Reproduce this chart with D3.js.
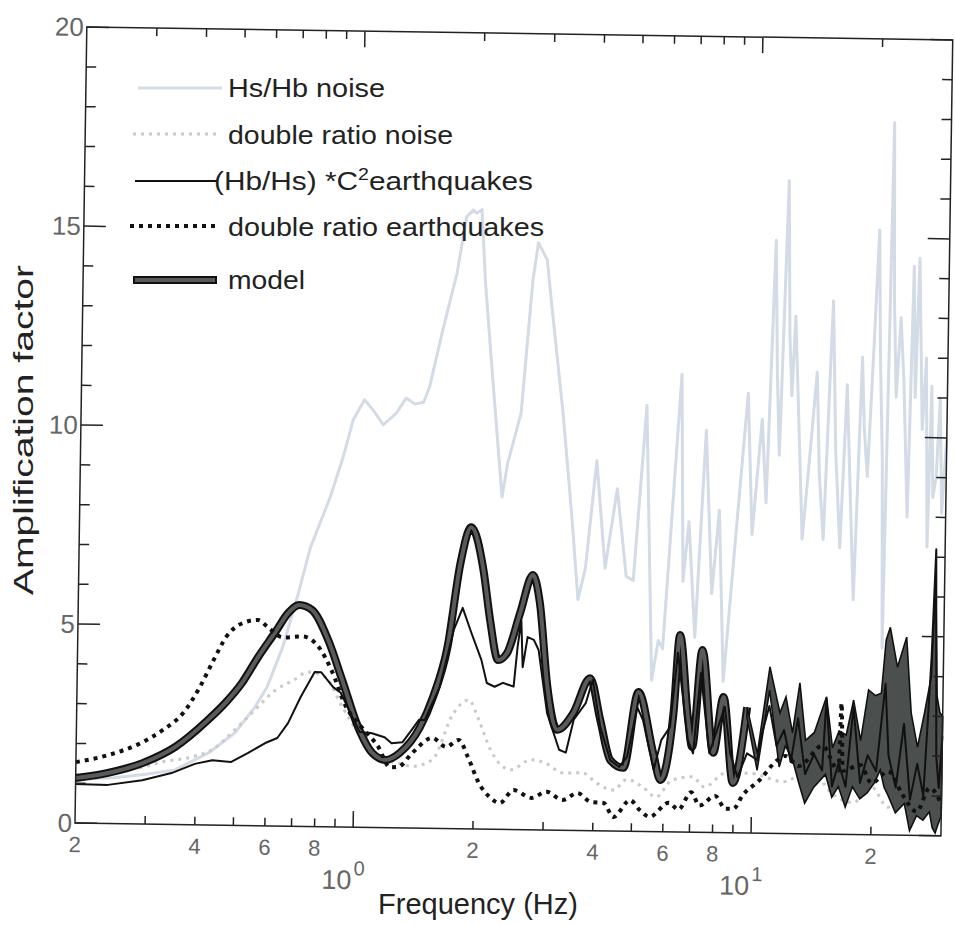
<!DOCTYPE html>
<html>
<head>
<meta charset="utf-8">
<script src="https://cdn.jsdelivr.net/npm/d3@7"></script>
<style>
  body { margin: 0; background: #fff; }
  text { font-family: "Liberation Sans", Arial, sans-serif; }
</style>
</head>
<body>
<svg id="chart" width="955" height="925"></svg>
<script>
// [frequency (Hz), amplification]

var hsHbNoise = [[0.2,1.1],[0.25,1.15],[0.3,1.25],[0.355,1.37],[0.43,1.81],[0.5,2.32],[0.56,2.97],[0.6,3.48],
  [0.655,4.49],[0.71,5.76],[0.762,7.0],[0.852,8.29],[0.915,9.3],[0.966,10.23],[1.03,10.74],[1.08,10.5],
  [1.15,10.12],[1.24,10.42],[1.31,10.8],[1.38,10.65],[1.45,10.7],[1.5,11.1],[1.61,12.52],[1.74,13.96],
  [1.83,15.37],[1.9,15.55],[1.94,15.47],[2.0,15.56],[2.05,13.8],[2.16,11.28],[2.3,8.35],[2.37,9.2],
  [2.55,10.46],[2.7,13.8],[2.78,14.75],[2.93,14.32],[3.0,13.4],[3.25,10.5],[3.45,7.9],[3.6,5.8],
  [3.75,6.6],[3.97,9.3],[4.2,6.6],[4.48,8.6],[4.75,6.4],[4.95,6.3],[5.28,10.7],[5.55,3.8],[5.75,4.8],
  [5.9,4.6],[6.45,11.5],[6.6,6.3],[6.8,7.8],[7.1,4.9],[7.46,10.1],[7.8,6.0],[8.1,8.1],[8.4,3.8],
  [8.9,7.3],[9.48,11.05],[9.8,7.5],[10.3,10.4],[10.6,8.3],[11.0,14.9],[11.2,11.5],[11.4,9.5],
  [11.8,16.4],[12.0,12.5],[12.2,11.0],[12.4,13.0],[12.6,11.4],[13.1,7.4],[13.6,9.5],[14.1,11.6],
  [14.4,9.0],[14.8,7.4],[15.1,10.5],[15.4,13.4],[15.8,9.6],[16.3,7.2],[16.8,11.3],[17.3,8.2],
  [17.7,5.9],[18.3,12.0],[18.6,10.2],[19.0,9.0],[19.5,12.0],[20.0,15.2],[20.3,12.0],[20.7,9.4],
  [21.0,4.7],[21.6,17.9],[21.9,13.5],[22.3,11.0],[22.8,13.0],[23.3,11.4],[24.0,8.0],[24.5,14.3],
  [24.9,11.0],[25.3,14.5],[26.0,10.2],[26.5,12.0],[27.0,7.25],[27.4,11.3],[27.8,8.5],[28.3,9.0],
  [28.8,11.0],[29.3,8.1],[30,10.0]];

var doubleRatioNoise = [[0.2,1.2],[0.25,1.3],[0.3,1.45],[0.33,1.57],[0.39,1.7],[0.447,1.94],[0.5,2.4],
  [0.56,2.9],[0.63,3.41],[0.7,3.67],[0.76,3.88],[0.84,3.76],[0.93,3.01],[1.05,2.2],[1.15,1.75],
  [1.3,1.62],[1.4,1.55],[1.57,1.72],[1.77,2.9],[1.93,3.24],[2.05,2.74],[2.2,1.99],[2.48,1.5],
  [2.78,1.76],[3.03,1.68],[3.35,1.44],[3.75,1.45],[4.07,1.2],[4.5,1.03],[4.85,1.3],[5.3,1.13],
  [5.75,0.87],[6.3,1.3],[7.1,1.39],[7.6,1.14],[8.6,1.5],[9.9,1.5],[12,1.3],[14,1.6],[16,1.0],
  [18,0.8],[20,1.2],[22,0.7],[25,1.0],[28,0.6],[30,1.0]];

var hbHsEarthquakes = [[0.2,0.98],[0.241,0.97],[0.294,1.1],[0.348,1.29],[0.398,1.53],[0.44,1.63],
  [0.49,1.59],[0.54,1.82],[0.597,2.08],[0.64,2.21],[0.68,2.59],[0.73,3.25],[0.79,3.88],[0.82,3.88],
  [0.88,3.51],[0.92,3.37],[1.03,2.39],[1.1,2.37],[1.19,2.27],[1.24,2.12],[1.32,2.15],[1.39,2.46],
  [1.45,2.72],[1.5,2.72],[1.63,3.55],[1.76,4.99],[1.85,5.55],[1.95,4.92],[2.07,4.25],[2.14,3.67],
  [2.24,3.58],[2.35,3.68],[2.5,3.59],[2.55,4.59],[2.6,5.26],[2.63,4.08],[2.7,4.84],[2.8,4.77],
  [2.88,4.52],[3.04,2.94],[3.27,2.02],[3.4,1.95],[3.55,2.78],[3.8,3.2],[3.95,3.79],[4.14,2.61],
  [4.4,1.78],[4.64,1.61],[4.85,1.87],[5.12,3.12],[5.3,2.8],[5.66,1.55],[5.9,2.3],[6.2,2.63],
  [6.45,4.5],[6.88,2.31],[7.1,1.98],[7.38,4.0],[7.8,1.99],[8.5,3.16],[8.8,2.0],[9.2,1.4],[9.7,2.0],
  [10.3,1.84],[10.5,2.4],[11,3.2],[11.5,2.2],[12,2.6],[12.5,1.8],[13,2.9],[13.6,1.5],[14.3,2.0],
  [15,1.6],[15.3,3.4],[15.9,1.2],[16.5,1.8],[17.2,1.2],[17.9,3.2],[18.7,1.3],[19.5,2.0],[20.5,1.6],
  [21.5,3.8],[22,2.0],[23,1.2],[24,2.8],[25,0.9],[26,1.8],[27,1.0],[28,4.5],[28.5,7.2],[29,2.0],
  [29.5,1.2],[30,2.5]];

var doubleRatioEarthquakes = [[0.2,1.53],[0.241,1.72],[0.294,2.06],[0.33,2.37],[0.37,2.8],[0.407,3.46],
  [0.44,4.15],[0.472,4.73],[0.52,5.09],[0.567,5.17],[0.6,4.99],[0.656,4.74],[0.735,4.77],[0.81,4.49],
  [0.87,3.94],[0.95,3.02],[1.04,2.52],[1.15,2.02],[1.23,1.52],[1.29,1.53],[1.4,1.89],[1.57,2.27],
  [1.7,2.05],[1.83,2.23],[1.93,1.81],[2.06,1.16],[2.2,0.8],[2.33,0.66],[2.52,0.99],[2.8,0.8],
  [3.05,0.96],[3.35,0.76],[3.65,0.94],[3.95,0.72],[4.25,0.7],[4.5,0.35],[4.95,0.78],[5.25,0.53],
  [5.55,0.37],[6.2,0.73],[6.55,0.56],[7.05,1.0],[7.4,0.67],[8.1,0.92],[8.6,0.6],[9.0,0.6],[9.5,0.95],
  [10.5,1.35],[11.4,1.78],[12.1,1.95],[13.1,1.7],[15,2.22],[16.5,1.6],[16.7,3.3],[16.9,1.6],
  [18.7,1.75],[20,1.3],[22,1.6],[24,1.0],[26,0.6],[28,1.2],[30,0.8]];

var model = [[0.2,1.13],[0.241,1.27],[0.294,1.53],[0.355,1.95],[0.428,2.64],[0.472,3.07],[0.519,3.58],
  [0.569,4.24],[0.627,4.87],[0.675,5.36],[0.718,5.56],[0.774,5.44],[0.852,4.69],[0.927,3.69],
  [1.02,2.52],[1.11,1.87],[1.2,1.7],[1.3,1.88],[1.46,2.54],[1.57,3.3],[1.7,4.56],[1.82,6.68],
  [1.93,7.58],[2.08,6.5],[2.17,5.25],[2.28,4.25],[2.4,4.43],[2.58,5.44],[2.77,6.4],[2.89,5.7],
  [3.04,3.59],[3.23,2.52],[3.54,2.95],[3.89,3.83],[4.14,2.78],[4.4,1.78],[4.75,1.59],[5.15,3.5],
  [5.64,1.97],[5.89,1.3],[6.32,2.99],[6.52,4.95],[6.88,2.82],[7.06,2.14],[7.43,4.58],[7.98,2.0],
  [8.43,3.41],[8.96,1.25],[9.67,3.16]];

// [frequency, low, high] of the model range at high frequency
var modelRange = [[9.67,2.9,3.16],[10.3,1.58,2.0],[11.0,3.6,4.18],[11.7,1.67,3.03],[12.1,2.2,3.43],
  [12.6,1.9,2.53],[13.1,1.3,3.79],[13.6,0.77,2.35],[14.3,1.17,2.55],[15.3,1.5,3.45],[15.9,0.93,2.17],
  [16.5,1.2,2.6],[17.2,0.69,2.5],[17.9,1.2,3.38],[18.7,0.9,2.36],[19.5,1.05,3.64],[20.3,1.3,3.5],
  [21.0,1.63,3.56],[21.5,1.2,4.9],[22.0,1.0,5.22],[23.0,0.56,4.22],[24.2,0.8,4.98],[25.0,0.12,3.07],
  [26.0,0.5,2.22],[27.0,0.39,3.08],[28.0,0.6,4.0],[28.5,0.2,6.5],[29.0,0.07,3.5],[29.5,0.3,3.1],
  [30,0.5,3.0]];

var xMinorTicks = [0.3, 0.4, 0.5, 0.6, 0.7, 0.8, 0.9, 2, 3, 4, 5, 6, 7, 8, 9, 20];
var xMajorTicks = [1, 10];
var xDigitTicks = [0.2, 0.4, 0.6, 0.8, 2, 4, 6, 8, 20];
var xDigitLabels = ['2', '4', '6', '8', '2', '4', '6', '8', '2'];
var xDecadeTicks = [1, 10];
var xDecadeExp = ['0', '1'];
var yMajorTicks = [0, 5, 10, 15, 20];
var yMinorTicks = [1, 2, 3, 4, 6, 7, 8, 9, 11, 12, 13, 14, 16, 17, 18, 19];

var W = 866, H = 796;
var svg = d3.select('#chart');

var x = d3.scaleLog().domain([0.2, 30]).range([0, W]);
var y = d3.scaleLinear().domain([0, 20]).range([H, 0]);

// the scanned figure is turned slightly clockwise
var g = svg.append('g').attr('transform', 'rotate(0.85,75,823) translate(75,27)');

var line = d3.line().x(function(d) { return x(d[0]); }).y(function(d) { return y(d[1]); });
var smooth = d3.line().x(function(d) { return x(d[0]); }).y(function(d) { return y(d[1]); })
  .curve(d3.curveMonotoneX);

// Hs/Hb noise
g.append('path').datum(hsHbNoise)
  .attr('d', line).attr('fill', 'none')
  .attr('stroke', '#d3dbe6').attr('stroke-width', 3).attr('stroke-linejoin', 'round');

// double ratio noise
g.append('path').datum(doubleRatioNoise)
  .attr('d', smooth).attr('fill', 'none')
  .attr('stroke', '#c9c9c9').attr('stroke-width', 3).attr('stroke-dasharray', '3,5');

// model
g.append('path').datum(model)
  .attr('d', smooth).attr('fill', 'none')
  .attr('stroke', '#111').attr('stroke-width', 8).attr('stroke-linejoin', 'round');
g.append('path').datum(model)
  .attr('d', smooth).attr('fill', 'none')
  .attr('stroke', '#5a5a5a').attr('stroke-width', 4).attr('stroke-linejoin', 'round');

var area = d3.area()
  .x(function(d) { return x(d[0]); })
  .y0(function(d) { return y(d[1]); })
  .y1(function(d) { return y(d[2]); });
g.append('path').datum(modelRange)
  .attr('d', area)
  .attr('fill', '#4b4f4d').attr('stroke', '#111').attr('stroke-width', 1.6);

// (Hb/Hs)*C^2 earthquakes
g.append('path').datum(hbHsEarthquakes)
  .attr('d', line).attr('fill', 'none')
  .attr('stroke', '#111').attr('stroke-width', 2).attr('stroke-linejoin', 'round');

// double ratio earthquakes
g.append('path').datum(doubleRatioEarthquakes)
  .attr('d', smooth).attr('fill', 'none')
  .attr('stroke', '#111').attr('stroke-width', 4).attr('stroke-dasharray', '4,5');

// frame
g.append('rect').attr('x', 0).attr('y', 0).attr('width', W).attr('height', H)
  .attr('fill', 'none').attr('stroke', '#222').attr('stroke-width', 1.5);

// x ticks (bottom and top, inward)
function xTick(vals, len) {
  vals.forEach(function(v) {
    g.append('line').attr('x1', x(v)).attr('x2', x(v)).attr('y1', H).attr('y2', H - len)
      .attr('stroke', '#222').attr('stroke-width', 1.5);
    g.append('line').attr('x1', x(v)).attr('x2', x(v)).attr('y1', 0).attr('y2', len)
      .attr('stroke', '#222').attr('stroke-width', 1.5);
  });
}
xTick(xMinorTicks, 8);
xTick(xMajorTicks, 16);

// y ticks (left and right, inward)
function yTick(vals, len) {
  vals.forEach(function(v) {
    g.append('line').attr('x1', 0).attr('x2', len).attr('y1', y(v)).attr('y2', y(v))
      .attr('stroke', '#222').attr('stroke-width', 1.5);
    g.append('line').attr('x1', W).attr('x2', W - len).attr('y1', y(v)).attr('y2', y(v))
      .attr('stroke', '#222').attr('stroke-width', 1.5);
  });
}
yTick(yMinorTicks, 10);
yTick(yMajorTicks, 22);

// tick labels
yMajorTicks.forEach(function(v) {
  g.append('text').attr('x', -3).attr('y', y(v) + 9)
    .attr('text-anchor', 'end').attr('font-size', 26).attr('fill', '#666')
    .text(v);
});
xDigitTicks.forEach(function(v, i) {
  g.append('text').attr('x', x(v)).attr('y', H + 29)
    .attr('text-anchor', 'middle').attr('font-size', 22).attr('fill', '#666')
    .text(xDigitLabels[i]);
});
xDecadeTicks.forEach(function(v, i) {
  g.append('text').attr('x', x(v) - 1).attr('y', H + 62)
    .attr('text-anchor', 'end').attr('font-size', 27).attr('fill', '#666').text('10');
  g.append('text').attr('x', x(v) + 1).attr('y', H + 48)
    .attr('text-anchor', 'start').attr('font-size', 20).attr('fill', '#666').text(xDecadeExp[i]);
});

// axis titles
svg.append('text').attr('x', 478).attr('y', 914)
  .attr('text-anchor', 'middle').attr('font-size', 29).attr('fill', '#222')
  .text('Frequency (Hz)');
svg.append('text').attr('transform', 'translate(33,430) rotate(-90)')
  .attr('text-anchor', 'middle').attr('font-size', 27).attr('fill', '#222')
  .attr('textLength', 330).attr('lengthAdjust', 'spacingAndGlyphs')
  .text('Amplification factor');

// legend
var legend = svg.append('g');
legend.append('line').attr('x1', 138).attr('x2', 222).attr('y1', 88).attr('y2', 88)
  .attr('stroke', '#d3dbe6').attr('stroke-width', 3);
legend.append('line').attr('x1', 133).attr('x2', 216).attr('y1', 134).attr('y2', 134)
  .attr('stroke', '#c9c9c9').attr('stroke-width', 3).attr('stroke-dasharray', '3,5');
legend.append('line').attr('x1', 135).attr('x2', 218).attr('y1', 181).attr('y2', 181)
  .attr('stroke', '#111').attr('stroke-width', 2);
legend.append('line').attr('x1', 130).attr('x2', 218).attr('y1', 226).attr('y2', 226)
  .attr('stroke', '#111').attr('stroke-width', 4).attr('stroke-dasharray', '4,5');
legend.append('line').attr('x1', 133).attr('x2', 217).attr('y1', 280).attr('y2', 280)
  .attr('stroke', '#111').attr('stroke-width', 8);
legend.append('line').attr('x1', 135).attr('x2', 215).attr('y1', 280).attr('y2', 280)
  .attr('stroke', '#5a5a5a').attr('stroke-width', 4);

function legendText(xp, yp, len, txt) {
  return legend.append('text').attr('x', xp).attr('y', yp)
    .attr('font-size', 26).attr('fill', '#222')
    .attr('textLength', len).attr('lengthAdjust', 'spacingAndGlyphs')
    .text(txt);
}
legendText(228, 97, 157, 'Hs/Hb noise');
legendText(228, 144, 225, 'double ratio noise');
var eqText = legend.append('text').attr('x', 214).attr('y', 190)
  .attr('font-size', 26).attr('fill', '#222')
  .attr('textLength', 319).attr('lengthAdjust', 'spacingAndGlyphs');
eqText.append('tspan').text('(Hb/Hs) *C');
eqText.append('tspan').attr('dy', -10).attr('font-size', 17).text('2');
eqText.append('tspan').attr('dy', 10).text('earthquakes');
legendText(228, 236, 316, 'double ratio earthquakes');
legendText(228, 289, 77, 'model');
</script>
</body>
</html>
